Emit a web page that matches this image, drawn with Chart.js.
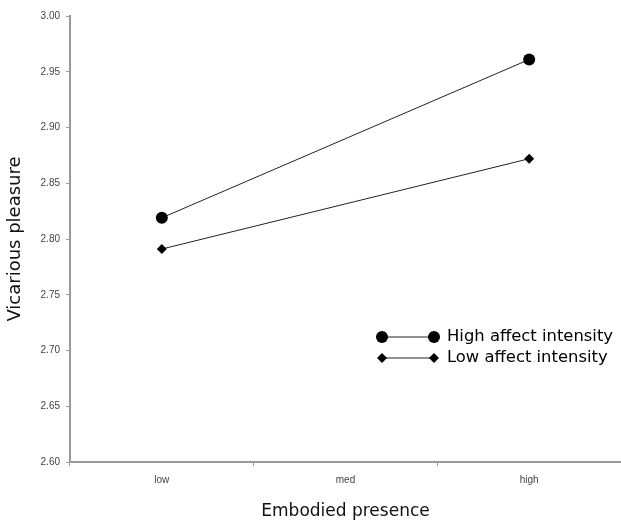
<!DOCTYPE html>
<html>
<head>
<meta charset="utf-8">
<script src="https://cdn.jsdelivr.net/npm/chart.js@4.4.1/dist/chart.umd.min.js"></script>
<style>
  html, body { margin: 0; padding: 0; background: #fff; }
  #wrap { width: 621px; height: 522px; }
</style>
</head>
<body>
<div id="wrap"><canvas id="myChart" width="621" height="522"></canvas></div>
<script>
const categories = ['low', 'med', 'high'];
const highAffect = [2.819, null, 2.961];
const lowAffect = [2.791, null, 2.872];
const yTicks = [2.60, 2.65, 2.70, 2.75, 2.80, 2.85, 2.90, 2.95, 3.00];

const titleFont = '"DejaVu Sans", sans-serif';
const tickFont = '"Liberation Sans", Arial, sans-serif';

// legend drawn inside the plot, like the original
const insideLegend = {
    id: 'insideLegend',
    afterDraw(chart) {
        const ctx = chart.ctx;
        const x1 = 382, x2 = 434, tx = 447;
        let y = 337;
        ctx.save();
        chart.data.datasets.forEach(ds => {
            ctx.strokeStyle = '#222';
            ctx.lineWidth = 1;
            ctx.beginPath();
            ctx.moveTo(x1, y);
            ctx.lineTo(x2, y);
            ctx.stroke();
            [x1, x2].forEach(px => {
                Chart.helpers.drawPoint(ctx, {
                    pointStyle: ds.pointStyle,
                    radius: ds.pointRadius,
                    borderWidth: 0
                }, px, y);
            });
            ctx.fillStyle = '#000';
            ctx.font = '16.4px ' + titleFont;
            ctx.textBaseline = 'middle';
            ctx.textAlign = 'left';
            ctx.fillText(ds.label, tx, y);
            y += 21;
        });
        ctx.restore();
    }
};

const ctx = document.getElementById('myChart');
const myChart = new Chart(ctx, {
    type: 'line',
    data: {
        labels: categories,
        datasets: [{
            label: 'High affect intensity',
            data: highAffect,
            borderColor: '#222',
            backgroundColor: '#000',
            borderWidth: 1,
            pointStyle: 'circle',
            pointRadius: 6,
            pointBorderWidth: 0,
            spanGaps: true
        }, {
            label: 'Low affect intensity',
            data: lowAffect,
            borderColor: '#222',
            backgroundColor: '#000',
            borderWidth: 1,
            pointStyle: 'rectRot',
            pointRadius: 5,
            pointBorderWidth: 0,
            spanGaps: true
        }]
    },
    options: {
        responsive: false,
        animation: false,
        layout: { autoPadding: false, padding: { top: 16, right: 0, left: 0, bottom: 0 } },
        scales: {
            x: {
                type: 'category',
                offset: true,
                grid: {
                    offset: true,
                    drawOnChartArea: false,
                    color: '#999',
                    tickLength: 4
                },
                border: { color: '#999', width: 2 },
                ticks: {
                    color: '#444',
                    font: { family: tickFont, size: 10 },
                    padding: 8,
                    maxRotation: 0
                },
                title: {
                    display: true,
                    text: 'Embodied presence',
                    color: '#111',
                    font: { family: titleFont, size: 17 },
                    padding: { top: 9, bottom: 0 }
                },
                afterFit(scale) { scale.height = 60; }
            },
            y: {
                min: 2.6,
                max: 3.0,
                afterBuildTicks(scale) {
                    scale.ticks = yTicks.map(v => ({ value: v }));
                },
                grid: {
                    drawOnChartArea: false,
                    color: '#999',
                    tickLength: 4
                },
                border: { color: '#999', width: 2 },
                ticks: {
                    color: '#444',
                    font: { family: tickFont, size: 10 },
                    padding: 6,
                    callback: v => Number(v).toFixed(2)
                },
                title: {
                    display: true,
                    text: 'Vicarious pleasure',
                    color: '#111',
                    font: { family: titleFont, size: 18 },
                    padding: { top: 5, bottom: 0 }
                },
                afterFit(scale) { scale.width = 70; }
            }
        },
        plugins: {
            legend: { display: false },
            tooltip: { enabled: false }
        }
    },
    plugins: [insideLegend]
});
</script>
</body>
</html>
